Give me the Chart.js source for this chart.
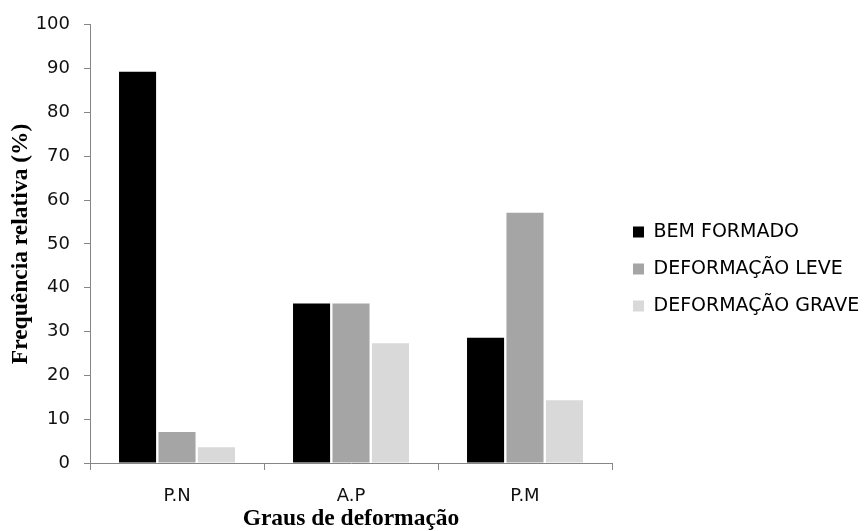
<!DOCTYPE html>
<html><head><meta charset="utf-8">
<script src="https://cdn.jsdelivr.net/npm/chart.js@4"></script>
<style>html,body{margin:0;padding:0;background:#fff}#wrap{width:864px;height:531px;position:relative}</style>
</head><body><div id="wrap"><canvas id="c" width="864" height="531"></canvas></div>
<script>
const categories = ['P.N', 'A.P', 'P.M'];
const seriesNames = ['BEM FORMADO', 'DEFORMAÇÃO LEVE', 'DEFORMAÇÃO GRAVE'];
const bemFormado = [89.3, 36.4, 28.6];
const deformacaoLeve = [7.1, 36.4, 57.1];
const deformacaoGrave = [3.6, 27.3, 14.3];
const yTicks = [0, 10, 20, 30, 40, 50, 60, 70, 80, 90, 100];
const seriesColors = ['#000000', '#a5a5a5', '#d9d9d9'];
const xTitle = 'Graus de deformação';
const yTitle = 'Frequência relativa (%)';

const axisColor = '#868686';
const tickFont = {family: 'DejaVu Sans', size: 18};
const titleFont = {family: 'Liberation Serif', size: 23.5, weight: 'bold', lineHeight: 1};
const legendFontSize = 19;
const legendPad = 18;

const legendPlugin = {
  id: 'legendPlace',
  afterInit(chart) {
    const lg = chart.legend;
    if (!lg) return;
    const origFit = lg.fit.bind(lg);
    lg.fit = function () { origFit(); this.width = 252; };
  },
  afterLayout(chart) {
    const lg = chart.legend;
    if (!lg) return;
    const h = 200;
    lg.left = 633 - legendPad; lg.right = 864;
    lg.width = lg.right - lg.left;
    lg.top = 232 - legendPad - legendFontSize / 2; lg.bottom = lg.top + h;
    lg.height = h;
  }
};

new Chart(document.getElementById('c'), {
  type: 'bar',
  data: {
    labels: categories,
    datasets: [
      {label: seriesNames[0], data: bemFormado, backgroundColor: seriesColors[0]},
      {label: seriesNames[1], data: deformacaoLeve, backgroundColor: seriesColors[1]},
      {label: seriesNames[2], data: deformacaoGrave, backgroundColor: seriesColors[2]}
    ]
  },
  options: {
    responsive: false,
    animation: false,
    devicePixelRatio: 1,
    layout: {padding: {left: 0, right: 0, top: 24, bottom: 0}},
    datasets: {bar: {categoryPercentage: 0.68, barPercentage: 0.94}},
    plugins: {
      tooltip: {enabled: false},
      legend: {
        position: 'right',
        align: 'start',
        labels: {
          boxWidth: 11, boxHeight: 11, padding: legendPad,
          color: '#000', font: {family: 'DejaVu Sans', size: legendFontSize}
        }
      }
    },
    scales: {
      x: {
        grid: {display: true, drawOnChartArea: false, drawTicks: true, tickLength: 7, color: axisColor, offset: true},
        border: {color: axisColor},
        ticks: {color: '#111', font: tickFont, padding: 16},
        title: {display: true, text: xTitle, color: '#000', font: titleFont, padding: {top: 0, bottom: 0}},
        afterFit(s) { s.height = 68; }
      },
      y: {
        min: 0, max: 100,
        afterBuildTicks(s) { s.ticks = yTicks.map(v => ({value: v})); },
        grid: {display: true, drawOnChartArea: false, drawTicks: true, tickLength: 6, color: axisColor},
        border: {color: axisColor},
        ticks: {color: '#111', font: tickFont, padding: 14},
        title: {display: true, text: yTitle, color: '#000', font: titleFont, padding: {top: 9, bottom: 0}},
        afterFit(s) { s.width = 90; }
      }
    }
  },
  plugins: [legendPlugin]
});
</script>
</body></html>
